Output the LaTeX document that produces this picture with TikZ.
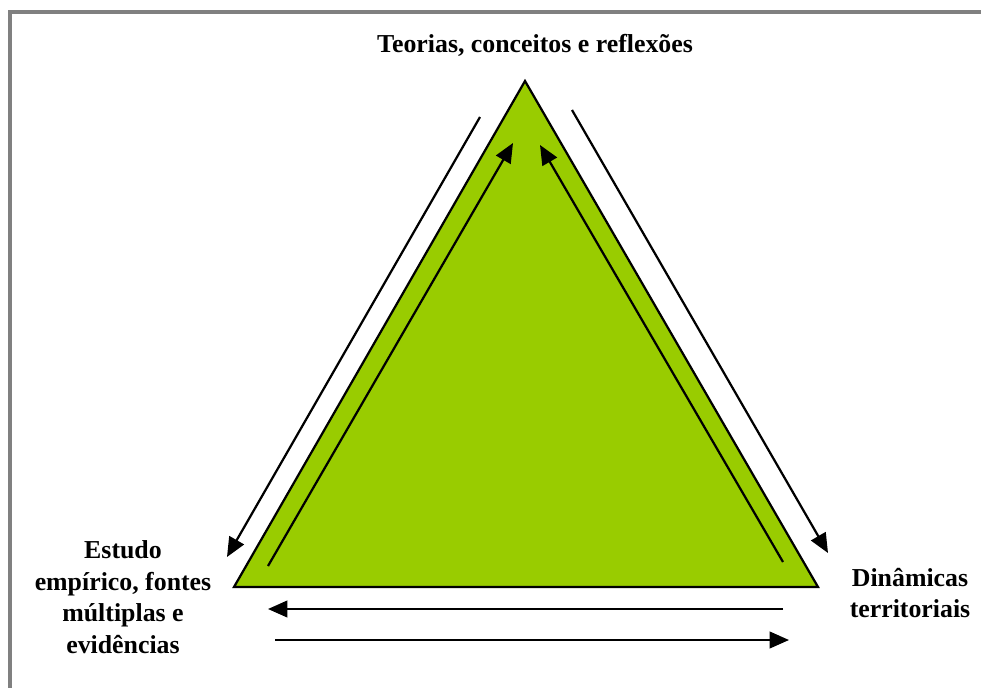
\documentclass[tikz,border=0pt]{standalone}
\usepackage{fontspec}
\setmainfont{Liberation Serif}
\usetikzlibrary{arrows.meta}
\definecolor{leaf}{HTML}{99CC00}
\begin{document}
\begin{tikzpicture}[x=0.72pt, y=-0.72pt, line width=1.6pt, lbl/.style={font=\bfseries\fontsize{18.6}{22.8}\selectfont, align=center, inner sep=0pt}, arr/.style={-{Triangle[length=14pt, width=12pt]}}]
            \useasboundingbox (0,0) rectangle (981,688);
            \draw[gray, line width=2.2pt] (981,12) -- (10,12) -- (10,688);% Frame
            \coordinate (apex) at (525,81); \coordinate (bl) at (234,587); \coordinate (br) at (818,587);
            \filldraw[fill=leaf, draw=black, line join=miter] (apex) -- (bl) -- (br) -- cycle;
            \node[lbl] (teo) at (535,45) {Teorias, conceitos e reflexões};
            \node[lbl] (emp) at (123,597) {Estudo\\empírico, fontes\\múltiplas e\\evidências};
            \node[lbl] (din) at (910,593) {Dinâmicas\\territoriais};
            % arrow ends
            \coordinate (o1) at (480,117); \coordinate (o2) at (227,557); \coordinate (o3) at (572,110); \coordinate (o4) at (828,553);
            \coordinate (i1) at (268,566); \coordinate (i2) at (513,143); \coordinate (i3) at (783,562); \coordinate (i4) at (540,145);
            \coordinate (b1) at (783,609); \coordinate (b2) at (268,609); \coordinate (b3) at (275,640); \coordinate (b4) at (789,640);
            \draw[arr] (o1) -- (o2); \draw[arr] (o3) -- (o4);
            \draw[arr] (i1) -- (i2); \draw[arr] (i3) -- (i4);
            \draw[arr] (b1) -- (b2); \draw[arr] (b3) -- (b4);
        \end{tikzpicture}
\end{document}
